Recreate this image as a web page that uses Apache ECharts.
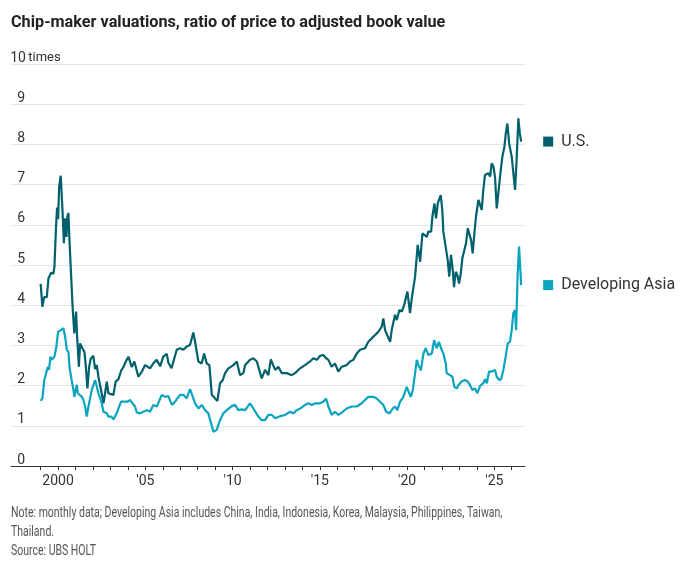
<!DOCTYPE html>
<html>
<head>
<meta charset="utf-8">
<script src="https://cdn.jsdelivr.net/npm/echarts@6/dist/echarts.min.js"></script>
<style>
  html, body { margin: 0; padding: 0; background: #fff; }
  #main { width: 688px; height: 574px; }
</style>
</head>
<body>
<div id="main"></div>
<script>
// [year, price-to-adjusted-book ratio], monthly data
var usData = [
  [1999.00, 4.53], [1999.10, 3.96], [1999.20, 4.20], [1999.35, 4.20], [1999.45, 4.67], [1999.54, 4.64],
  [1999.60, 4.81], [1999.73, 4.78], [1999.79, 4.96], [1999.88, 5.95], [1999.94, 6.43], [2000.00, 6.14],
  [2000.06, 6.95], [2000.15, 7.22], [2000.25, 6.37], [2000.33, 5.54], [2000.40, 6.16], [2000.48, 5.70],
  [2000.53, 6.20], [2000.59, 6.29], [2000.65, 5.62], [2000.73, 4.88], [2000.84, 3.88], [2000.93, 3.30],
  [2001.03, 3.84], [2001.09, 3.22], [2001.19, 2.47], [2001.26, 3.05], [2001.39, 2.93], [2001.51, 2.84],
  [2001.59, 2.47], [2001.68, 1.93], [2001.78, 2.47], [2001.87, 2.67], [2002.02, 2.74], [2002.12, 2.41],
  [2002.22, 2.51], [2002.31, 2.22], [2002.46, 1.89], [2002.60, 1.56], [2002.69, 1.81], [2002.79, 2.10],
  [2002.88, 1.81], [2002.98, 1.77], [2003.17, 1.77], [2003.30, 2.10], [2003.46, 2.16], [2003.61, 2.37],
  [2003.74, 2.46], [2003.88, 2.60], [2004.03, 2.72], [2004.22, 2.46], [2004.37, 2.60], [2004.60, 2.22],
  [2004.80, 2.35], [2004.99, 2.51], [2005.27, 2.43], [2005.45, 2.55], [2005.65, 2.64], [2005.85, 2.48],
  [2006.03, 2.72], [2006.23, 2.79], [2006.32, 2.57], [2006.50, 2.43], [2006.80, 2.89], [2006.99, 2.93],
  [2007.18, 2.89], [2007.37, 2.97], [2007.56, 3.01], [2007.75, 3.32], [2007.85, 3.09], [2008.04, 2.60],
  [2008.23, 2.55], [2008.37, 2.80], [2008.52, 2.55], [2008.67, 2.51], [2008.81, 1.77], [2009.00, 1.68],
  [2009.13, 1.62], [2009.28, 2.06], [2009.44, 2.14], [2009.57, 2.31], [2009.76, 2.43], [2009.86, 2.43],
  [2010.05, 2.51], [2010.24, 2.60], [2010.43, 2.26], [2010.62, 2.31], [2010.72, 2.51], [2011.00, 2.64],
  [2011.19, 2.68], [2011.39, 2.60], [2011.67, 2.18], [2011.86, 2.39], [2012.05, 2.26], [2012.19, 2.65],
  [2012.44, 2.39], [2012.62, 2.47], [2012.82, 2.31], [2013.11, 2.31], [2013.39, 2.26], [2013.58, 2.31],
  [2013.87, 2.43], [2014.15, 2.51], [2014.44, 2.60], [2014.63, 2.68], [2014.83, 2.64], [2015.01, 2.74],
  [2015.20, 2.76], [2015.36, 2.68], [2015.49, 2.64], [2015.68, 2.47], [2015.87, 2.55], [2016.06, 2.35],
  [2016.26, 2.47], [2016.54, 2.51], [2016.73, 2.60], [2016.92, 2.64], [2017.12, 2.80], [2017.31, 2.89],
  [2017.59, 2.93], [2017.78, 3.09], [2017.98, 3.18], [2018.17, 3.26], [2018.36, 3.34], [2018.55, 3.47],
  [2018.64, 3.67], [2018.74, 3.38], [2018.84, 3.34], [2019.03, 3.09], [2019.12, 3.38], [2019.31, 3.76],
  [2019.41, 3.63], [2019.56, 3.88], [2019.70, 3.84], [2019.83, 4.00], [2020.02, 4.34], [2020.17, 3.80],
  [2020.27, 4.17], [2020.46, 4.71], [2020.61, 5.50], [2020.75, 5.08], [2020.88, 5.79], [2020.99, 5.75],
  [2021.13, 5.70], [2021.22, 5.83], [2021.38, 5.83], [2021.45, 6.20], [2021.57, 6.53], [2021.66, 6.16],
  [2021.76, 6.53], [2021.83, 6.62], [2021.93, 6.74], [2022.02, 6.37], [2022.08, 5.83], [2022.18, 5.83],
  [2022.27, 5.29], [2022.33, 5.12], [2022.42, 4.71], [2022.52, 5.25], [2022.62, 4.88], [2022.69, 4.45],
  [2022.79, 4.83], [2022.88, 4.75], [2022.98, 4.54], [2023.08, 4.79], [2023.17, 5.17], [2023.28, 5.17],
  [2023.38, 5.54], [2023.48, 5.91], [2023.57, 5.95], [2023.67, 5.62], [2023.76, 5.29], [2023.86, 5.79],
  [2023.95, 6.20], [2024.09, 6.62], [2024.18, 6.62], [2024.28, 6.37], [2024.37, 6.87], [2024.47, 7.24],
  [2024.57, 7.20], [2024.66, 7.28], [2024.76, 7.20], [2024.85, 7.53], [2024.95, 7.45], [2025.04, 7.20],
  [2025.14, 6.41], [2025.23, 6.41], [2025.33, 7.20], [2025.46, 7.69], [2025.58, 7.94], [2025.66, 8.28],
  [2025.75, 8.52], [2025.85, 8.03], [2026.00, 7.69], [2026.19, 6.87], [2026.27, 7.53], [2026.38, 8.65],
  [2026.46, 8.28], [2026.54, 8.07]
];

var asiaData = [
  [1999.00, 1.62], [1999.10, 1.68], [1999.21, 2.14], [1999.31, 2.18], [1999.41, 2.47], [1999.48, 2.39],
  [1999.56, 2.72], [1999.64, 2.64], [1999.79, 2.72], [1999.90, 2.97], [2000.00, 3.34], [2000.10, 3.30],
  [2000.17, 3.38], [2000.30, 3.43], [2000.40, 3.22], [2000.50, 2.89], [2000.59, 2.84], [2000.65, 2.47],
  [2000.79, 2.10], [2000.88, 1.89], [2000.93, 1.72], [2001.01, 1.89], [2001.07, 2.02], [2001.13, 1.81],
  [2001.22, 1.85], [2001.36, 1.72], [2001.45, 1.64], [2001.55, 1.48], [2001.64, 1.23], [2001.74, 1.48],
  [2001.83, 1.68], [2001.93, 1.89], [2002.02, 1.89], [2002.12, 2.14], [2002.22, 1.97], [2002.31, 1.81],
  [2002.41, 1.68], [2002.50, 1.56], [2002.60, 1.35], [2002.69, 1.39], [2002.79, 1.31], [2002.88, 1.23],
  [2003.04, 1.23], [2003.17, 1.16], [2003.27, 1.19], [2003.36, 1.31], [2003.50, 1.48], [2003.61, 1.60],
  [2003.74, 1.60], [2003.84, 1.64], [2003.97, 1.60], [2004.13, 1.64], [2004.26, 1.56], [2004.41, 1.48],
  [2004.51, 1.33], [2004.70, 1.31], [2004.89, 1.35], [2005.08, 1.39], [2005.27, 1.35], [2005.46, 1.52],
  [2005.66, 1.48], [2005.94, 1.77], [2006.13, 1.72], [2006.32, 1.74], [2006.52, 1.52], [2006.70, 1.60],
  [2006.99, 1.77], [2007.18, 1.77], [2007.37, 1.68], [2007.56, 1.91], [2007.72, 1.72], [2007.85, 1.56],
  [2008.04, 1.43], [2008.23, 1.52], [2008.42, 1.39], [2008.61, 1.31], [2008.90, 0.85], [2009.09, 0.90],
  [2009.28, 1.14], [2009.47, 1.31], [2009.67, 1.39], [2009.95, 1.49], [2010.14, 1.52], [2010.33, 1.39],
  [2010.53, 1.41], [2010.72, 1.39], [2011.00, 1.56], [2011.19, 1.43], [2011.48, 1.23], [2011.67, 1.14],
  [2011.86, 1.14], [2012.05, 1.27], [2012.25, 1.27], [2012.44, 1.19], [2012.72, 1.24], [2013.01, 1.27],
  [2013.30, 1.35], [2013.48, 1.31], [2013.68, 1.39], [2013.87, 1.43], [2014.15, 1.52], [2014.34, 1.56],
  [2014.54, 1.52], [2014.73, 1.56], [2015.01, 1.56], [2015.20, 1.60], [2015.36, 1.68], [2015.49, 1.48],
  [2015.68, 1.27], [2015.87, 1.35], [2016.06, 1.27], [2016.26, 1.33], [2016.54, 1.43], [2016.83, 1.48],
  [2017.12, 1.48], [2017.40, 1.56], [2017.59, 1.64], [2017.78, 1.72], [2018.07, 1.72], [2018.26, 1.68],
  [2018.45, 1.60], [2018.64, 1.52], [2018.80, 1.35], [2018.99, 1.31], [2019.18, 1.43], [2019.31, 1.48],
  [2019.44, 1.39], [2019.60, 1.60], [2019.79, 1.72], [2019.98, 1.97], [2020.07, 2.01], [2020.21, 1.72],
  [2020.33, 1.89], [2020.46, 2.31], [2020.56, 2.64], [2020.65, 2.51], [2020.79, 2.38], [2020.94, 2.80],
  [2021.07, 2.93], [2021.22, 2.76], [2021.42, 2.80], [2021.55, 3.13], [2021.70, 2.93], [2021.83, 3.09],
  [2021.95, 2.93], [2022.08, 2.80], [2022.22, 2.55], [2022.27, 2.31], [2022.46, 2.26], [2022.60, 2.22],
  [2022.71, 1.97], [2022.85, 1.93], [2022.94, 2.01], [2023.13, 2.10], [2023.32, 2.14], [2023.48, 2.10],
  [2023.61, 2.01], [2023.74, 1.89], [2023.90, 1.93], [2024.03, 1.81], [2024.18, 1.99], [2024.37, 2.06],
  [2024.47, 2.16], [2024.57, 2.06], [2024.70, 2.35], [2024.85, 2.35], [2025.04, 2.39], [2025.14, 2.22],
  [2025.27, 2.14], [2025.39, 2.16], [2025.52, 2.39], [2025.65, 2.72], [2025.77, 3.05], [2025.90, 3.09],
  [2026.00, 3.38], [2026.09, 3.80], [2026.19, 3.88], [2026.25, 3.38], [2026.34, 4.79], [2026.42, 5.46],
  [2026.54, 4.50]
];

var seriesNames = ['U.S.', 'Developing Asia'];
var seriesColors = ['#00606b', '#0aa4bf'];
var tickYears = [1999, 2000, 2001, 2002, 2003, 2004, 2005, 2006, 2007, 2008, 2009, 2010, 2011, 2012,
  2013, 2014, 2015, 2016, 2017, 2018, 2019, 2020, 2021, 2022, 2023, 2024, 2025, 2026];
var labelYears = [2000, 2005, 2010, 2015, 2020, 2025];
var titleText = 'Chip-maker valuations, ratio of price to adjusted book value';
var noteText = 'Note: monthly data; Developing Asia includes China, India, Indonesia, Korea, Malaysia, Philippines, Taiwan,\nThailand.\nSource: UBS HOLT';

var FONT = 'Roboto, "Noto Sans", sans-serif';

var myChart = echarts.init(document.getElementById('main'), null, { renderer: 'canvas' });

function makeSeries(name, data, color) {
  return {
    name: name,
    type: 'line',
    data: data,
    showSymbol: false,
    silent: true,
    lineStyle: { color: color, width: 2.2 },
    itemStyle: { color: color },
    endLabel: {
      show: true,
      distance: 22,
      formatter: '{sq|}{t|' + name + '}',
      rich: {
        sq: { width: 10, height: 10, backgroundColor: color },
        t: { fontFamily: FONT, fontSize: 16, color: '#333', padding: [0, 0, 0, 8] }
      }
    }
  };
}

myChart.setOption({
  animation: false,
  backgroundColor: '#fff',
  textStyle: { fontFamily: FONT },
  graphic: [
    {
      type: 'text',
      x: 11, y: 14,
      scaleX: 0.955,
      silent: true,
      style: {
        text: titleText,
        font: 'bold 17px ' + FONT,
        fill: '#222',
        verticalAlign: 'top'
      }
    },
    {
      type: 'text',
      x: 11, y: 504,
      scaleX: 0.7,
      silent: true,
      style: {
        text: noteText,
        font: '15px ' + FONT,
        lineHeight: 19,
        fill: '#555',
        verticalAlign: 'top'
      }
    }
  ],
  grid: { left: 11, right: 163, top: 64, bottom: 108, containLabel: false, outerBoundsMode: 'none' },
  xAxis: {
    type: 'value',
    min: 1997.3,
    max: 2026.76,
    splitLine: { show: false },
    axisLine: { show: true, lineStyle: { color: '#333', width: 1 } },
    axisTick: { show: true, customValues: tickYears, length: 4, lineStyle: { color: '#333' } },
    axisLabel: {
      customValues: labelYears,
      margin: 8,
      fontSize: 14,
      color: '#333',
      fontFamily: FONT,
      formatter: function (v) {
        return v === 2000 ? '2000' : "'" + String(v).slice(2);
      }
    }
  },
  yAxis: {
    type: 'value',
    min: 0,
    max: 10,
    interval: 1,
    axisLine: { show: false },
    axisTick: { show: false },
    splitLine: { show: true, lineStyle: { color: '#e4e4e4', width: 1 } },
    axisLabel: {
      inside: true,
      margin: 0,
      showMinLabel: true,
      showMaxLabel: true,
      align: 'left',
      verticalAlign: 'bottom',
      formatter: function (v) {
        return v === 10 ? '{v|10}{u| times}' : '{v|' + v + '}';
      },
      rich: {
        v: { width: 14, align: 'right', fontSize: 14, color: '#333', fontFamily: FONT, lineHeight: 12 },
        u: { fontSize: 13, color: '#333', fontFamily: FONT, lineHeight: 12 }
      }
    }
  },
  series: [
    makeSeries(seriesNames[0], usData, seriesColors[0]),
    makeSeries(seriesNames[1], asiaData, seriesColors[1])
  ]
});
</script>
</body>
</html>
